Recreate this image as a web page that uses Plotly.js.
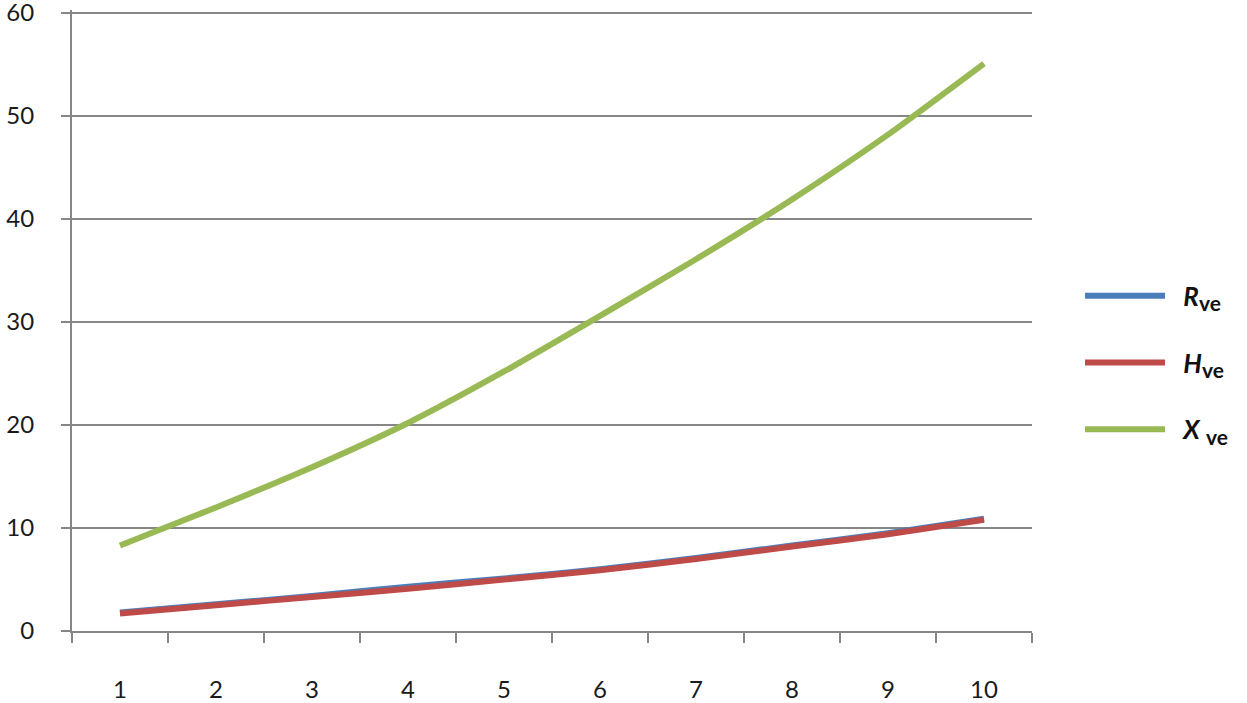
<!DOCTYPE html>
<html>
<head>
<meta charset="utf-8">
<script src="https://cdn.plot.ly/plotly-3.0.1.min.js"></script>
<style>
  html, body { margin: 0; padding: 0; background: #fff; }
  #chart { width: 1247px; height: 703px; }
</style>
</head>
<body>
<div id="chart"></div>
<script>
// categories on the x axis
var cats = ['1', '2', '3', '4', '5', '6', '7', '8', '9', '10'];
// series values
var rVe = [1.8, 2.6, 3.4, 4.3, 5.1, 6.0, 7.1, 8.3, 9.5, 10.9];
var hVe = [1.7, 2.5, 3.3, 4.1, 5.0, 5.9, 7.0, 8.2, 9.4, 10.8];
var xVe = [8.3, 12.0, 15.9, 20.2, 25.2, 30.6, 36.1, 41.9, 48.2, 55.1];
var yTicks = [0, 10, 20, 30, 40, 50, 60];

var gridCol = '#868686';
var tickFont = {family: 'Lato, "Open Sans", sans-serif', size: 24, color: '#1a1a1a'};

function series(y, name, color, group) {
  return {
    x: cats,
    y: y,
    name: name,
    legendgroup: group,
    type: 'scatter',
    mode: 'lines',
    line: {color: color, width: 6, shape: 'spline', smoothing: 0.6},
    hoverinfo: 'skip'
  };
}

// subscript a bit larger than plotly's default
function label(main, gap) {
  return '&nbsp;&nbsp;<b><i>' + main + '</i>' + gap +
    '<sub><span style="font-size:21px">ve</span></sub></b>';
}

var data = [
  series(rVe, label('R', ''), '#4a7ebb', 'a'),
  series(hVe, label('H', ''), '#be4b48', 'b'),
  series(xVe, label('X', ' '), '#98b954', 'c')
];

var layout = {
  width: 1247,
  height: 703,
  margin: {l: 72, r: 215, t: 10, b: 72},
  paper_bgcolor: '#fff',
  plot_bgcolor: '#fff',
  showlegend: true,
  legend: {
    x: 1.05,
    y: 0.432,
    xanchor: 'left',
    yanchor: 'middle',
    traceorder: 'grouped',
    tracegroupgap: 30,
    itemwidth: 80,
    font: {family: 'Lato, "Open Sans", sans-serif', size: 26, color: '#111'}
  },
  xaxis: {
    type: 'category',
    range: [-0.5, 9.5],
    tickson: 'boundaries',
    ticks: 'outside',
    ticklen: 10,
    tickwidth: 2,
    tickcolor: gridCol,
    showline: true,
    linecolor: gridCol,
    linewidth: 2,
    showgrid: false,
    tickfont: tickFont,
    ticklabelstandoff: 36,
    fixedrange: true
  },
  yaxis: {
    range: [0, 60.3],
    tickvals: yTicks,
    ticks: 'outside',
    ticklen: 9,
    tickwidth: 2,
    tickcolor: gridCol,
    showline: true,
    linecolor: gridCol,
    linewidth: 2,
    showgrid: true,
    gridcolor: gridCol,
    gridwidth: 2,
    zeroline: false,
    tickfont: tickFont,
    ticklabelstandoff: 22,
    ticklabeloverflow: 'allow',
    fixedrange: true
  }
};

Plotly.newPlot('chart', data, layout, {displayModeBar: false, staticPlot: true});
</script>
</body>
</html>
